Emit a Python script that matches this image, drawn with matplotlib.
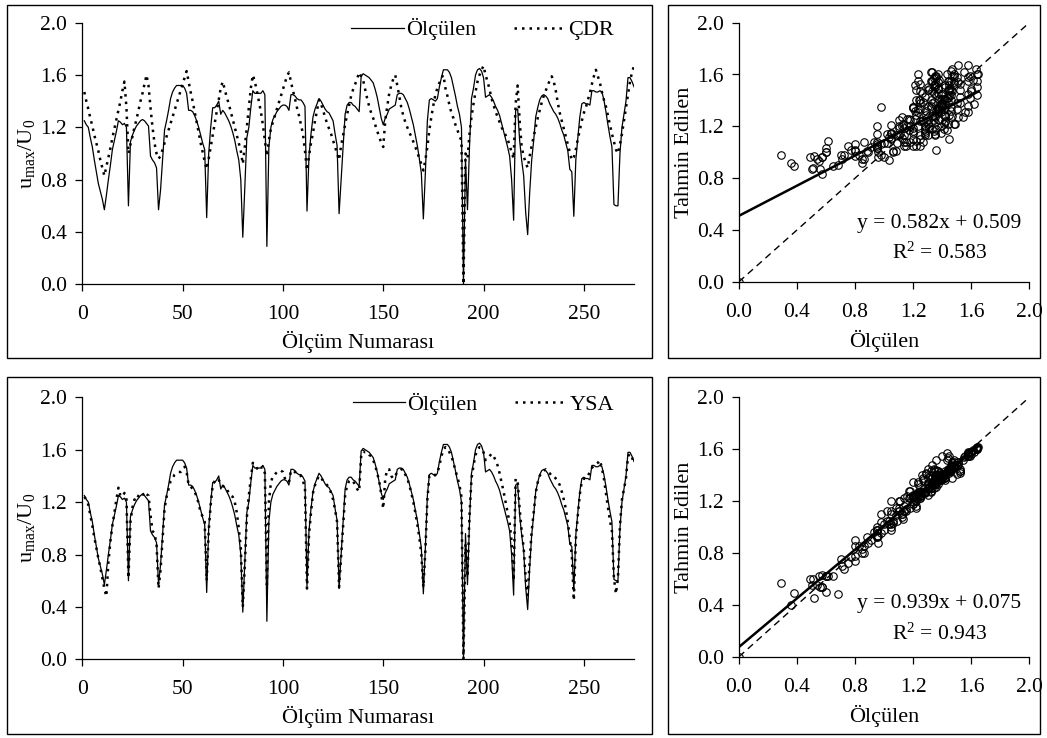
import numpy as np
import matplotlib
matplotlib.use("Agg")
import matplotlib.pyplot as plt
from matplotlib.patches import Rectangle

plt.rcParams['font.family'] = ['Liberation Serif', 'DejaVu Serif']
plt.rcParams['mathtext.fontset'] = 'custom'
plt.rcParams['mathtext.rm'] = 'Liberation Serif'
plt.rcParams['mathtext.it'] = 'Liberation Serif:italic'

# ---------------- data ----------------
olculen = [
    1.25, 1.22, 1.20, 1.12, 1.05, 0.95, 0.86, 0.77, 0.71, 0.65,
    0.57, 0.68, 0.80, 0.91, 1.03, 1.10, 1.17, 1.25, 1.24, 1.22,
    1.23, 1.20, 0.60, 1.09, 1.14, 1.18, 1.21, 1.23, 1.25, 1.26,
    1.25, 1.23, 1.21, 0.98, 0.95, 0.93, 0.89, 0.57, 0.72, 0.95,
    1.18, 1.25, 1.33, 1.42, 1.47, 1.50, 1.52, 1.52, 1.52, 1.52,
    1.50, 1.46, 1.33, 1.33, 1.32, 1.29, 1.25, 1.20, 1.14, 1.08,
    1.03, 0.51, 1.00, 1.20, 1.35, 1.35, 1.37, 1.40, 1.30, 1.33,
    1.31, 1.28, 1.25, 1.21, 1.16, 1.10, 1.02, 0.95, 0.80, 0.36,
    0.75, 1.12, 1.20, 1.35, 1.48, 1.46, 1.46, 1.46, 1.46, 1.48,
    1.45, 0.29, 1.05, 1.20, 1.26, 1.29, 1.32, 1.34, 1.36, 1.37,
    1.37, 1.36, 1.33, 1.45, 1.45, 1.44, 1.42, 1.41, 1.41, 1.39,
    1.36, 0.56, 0.98, 1.15, 1.28, 1.34, 1.38, 1.42, 1.40, 1.37,
    1.34, 1.32, 1.31, 1.28, 1.25, 1.15, 1.06, 0.54, 0.80, 1.05,
    1.30, 1.37, 1.39, 1.39, 1.37, 1.36, 1.34, 1.32, 1.59, 1.61,
    1.60, 1.59, 1.58, 1.56, 1.54, 1.49, 1.43, 1.35, 1.27, 1.22,
    1.27, 1.30, 1.34, 1.35, 1.36, 1.37, 1.45, 1.46, 1.46, 1.45,
    1.42, 1.39, 1.34, 1.28, 1.22, 1.14, 1.06, 0.96, 0.85, 0.50,
    0.85, 1.25, 1.41, 1.42, 1.41, 1.40, 1.42, 1.51, 1.58, 1.64,
    1.64, 1.64, 1.62, 1.58, 1.51, 1.44, 1.36, 1.30, 1.20, 0.00,
    0.96, 0.57, 1.05, 1.42, 1.50, 1.60, 1.64, 1.65, 1.63, 1.58,
    1.43, 1.44, 1.45, 1.43, 1.40, 1.36, 1.33, 1.29, 1.23, 1.17,
    1.11, 1.05, 0.98, 0.80, 0.49, 1.33, 1.34, 1.10, 0.95, 0.83,
    0.55, 0.38, 0.70, 0.95, 1.10, 1.28, 1.35, 1.41, 1.44, 1.45,
    1.44, 1.42, 1.38, 1.35, 1.32, 1.30, 1.27, 1.23, 1.18, 1.14,
    1.08, 1.02, 0.88, 0.86, 0.52, 0.95, 1.12, 1.28, 1.38, 1.39,
    1.38, 1.38, 1.37, 1.48, 1.48, 1.47, 1.47, 1.48, 1.47, 1.41,
    1.32, 1.22, 1.13, 1.05, 0.61, 0.60, 0.60, 1.00, 1.20, 1.30,
    1.40, 1.58, 1.58, 1.55, 1.51,
]

cdr = [
    1.47, 1.40, 1.34, 1.27, 1.21, 1.14, 1.08, 1.02, 0.95, 0.89,
    0.83, 0.90, 0.97, 1.04, 1.12, 1.19, 1.26, 1.33, 1.40, 1.48,
    1.55, 1.35, 1.00, 1.07, 1.13, 1.20, 1.26, 1.33, 1.40, 1.46,
    1.53, 1.60, 1.52, 1.35, 1.20, 1.08, 1.00, 0.96, 0.98, 1.03,
    1.08, 1.13, 1.18, 1.23, 1.28, 1.33, 1.38, 1.43, 1.48, 1.53,
    1.58, 1.63, 1.55, 1.47, 1.40, 1.32, 1.24, 1.16, 1.08, 1.01,
    0.94, 0.88, 0.96, 1.05, 1.14, 1.23, 1.32, 1.41, 1.50, 1.55,
    1.49, 1.43, 1.38, 1.32, 1.26, 1.20, 1.14, 1.08, 1.02, 0.92,
    1.05, 1.20, 1.35, 1.50, 1.60, 1.55, 1.48, 1.40, 1.32, 1.22,
    1.10, 0.98, 1.10, 1.19, 1.24, 1.29, 1.34, 1.39, 1.44, 1.49,
    1.54, 1.59, 1.62, 1.55, 1.48, 1.42, 1.35, 1.29, 1.22, 1.15,
    1.02, 0.87, 0.98, 1.08, 1.16, 1.25, 1.33, 1.41, 1.38, 1.33,
    1.28, 1.23, 1.19, 1.15, 1.10, 1.05, 1.00, 0.95, 1.06, 1.14,
    1.22, 1.30, 1.37, 1.44, 1.49, 1.53, 1.57, 1.62, 1.59, 1.56,
    1.49, 1.42, 1.36, 1.31, 1.27, 1.22, 1.17, 1.13, 1.08, 1.05,
    1.25, 1.36, 1.46, 1.52, 1.57, 1.60, 1.52, 1.44, 1.35, 1.29,
    1.24, 1.20, 1.16, 1.13, 1.09, 1.05, 1.01, 0.96, 0.92, 0.87,
    0.95, 1.05, 1.18, 1.28, 1.37, 1.45, 1.50, 1.54, 1.58, 1.60,
    1.50, 1.44, 1.37, 1.31, 1.27, 1.22, 1.18, 1.13, 1.10, 0.00,
    1.00, 0.96, 1.15, 1.28, 1.38, 1.47, 1.55, 1.60, 1.64, 1.67,
    1.60, 1.55, 1.49, 1.42, 1.37, 1.32, 1.28, 1.24, 1.20, 1.17,
    1.14, 1.11, 1.06, 1.01, 0.96, 1.38, 1.52, 1.25, 1.05, 0.98,
    0.93, 0.89, 0.98, 1.06, 1.13, 1.20, 1.27, 1.33, 1.39, 1.44,
    1.48, 1.52, 1.56, 1.59, 1.55, 1.48, 1.39, 1.31, 1.25, 1.19,
    1.13, 1.07, 1.01, 0.95, 0.97, 1.03, 1.11, 1.18, 1.25, 1.31,
    1.35, 1.41, 1.46, 1.53, 1.59, 1.64, 1.59, 1.54, 1.47, 1.41,
    1.36, 1.29, 1.22, 1.15, 1.09, 1.03, 1.00, 1.07, 1.15, 1.25,
    1.35, 1.45, 1.55, 1.62, 1.67,
]

ysa = [
    1.24, 1.22, 1.18, 1.10, 1.02, 0.93, 0.85, 0.77, 0.70, 0.62,
    0.54, 0.48, 0.74, 0.90, 1.02, 1.12, 1.22, 1.31, 1.25, 1.24,
    1.27, 1.23, 0.62, 1.05, 1.16, 1.22, 1.21, 1.25, 1.27, 1.27,
    1.24, 1.26, 1.25, 1.10, 0.98, 0.96, 0.88, 0.54, 0.68, 0.92,
    1.15, 1.24, 1.30, 1.36, 1.38, 1.41, 1.42, 1.43, 1.43, 1.45,
    1.47, 1.43, 1.33, 1.32, 1.30, 1.28, 1.24, 1.19, 1.12, 1.09,
    1.05, 0.60, 0.98, 1.18, 1.33, 1.36, 1.38, 1.37, 1.34, 1.33,
    1.30, 1.30, 1.27, 1.25, 1.24, 1.20, 1.12, 1.00, 0.85, 0.40,
    0.72, 1.08, 1.25, 1.38, 1.50, 1.48, 1.46, 1.44, 1.46, 1.47,
    1.42, 0.57, 1.20, 1.35, 1.40, 1.41, 1.43, 1.44, 1.44, 1.43,
    1.38, 1.36, 1.35, 1.44, 1.44, 1.43, 1.41, 1.40, 1.40, 1.36,
    1.31, 0.54, 0.95, 1.12, 1.27, 1.33, 1.37, 1.40, 1.39, 1.36,
    1.35, 1.33, 1.31, 1.27, 1.22, 1.14, 1.05, 0.55, 0.78, 1.00,
    1.25, 1.33, 1.36, 1.37, 1.36, 1.33, 1.30, 1.28, 1.55, 1.59,
    1.58, 1.58, 1.56, 1.55, 1.52, 1.48, 1.42, 1.36, 1.26, 1.15,
    1.38, 1.45, 1.45, 1.40, 1.38, 1.40, 1.43, 1.44, 1.45, 1.45,
    1.41, 1.38, 1.33, 1.27, 1.20, 1.12, 1.03, 0.93, 0.80, 0.55,
    0.83, 1.22, 1.40, 1.41, 1.40, 1.41, 1.42, 1.48, 1.55, 1.60,
    1.62, 1.61, 1.58, 1.55, 1.50, 1.44, 1.39, 1.33, 1.24, 0.00,
    0.88, 0.63, 1.10, 1.38, 1.48, 1.56, 1.60, 1.62, 1.61, 1.58,
    1.52, 1.53, 1.55, 1.57, 1.55, 1.52, 1.48, 1.42, 1.35, 1.28,
    1.20, 1.12, 1.04, 0.90, 0.60, 1.38, 1.36, 1.15, 0.98, 0.85,
    0.62, 0.49, 0.75, 0.98, 1.12, 1.27, 1.35, 1.40, 1.43, 1.44,
    1.45, 1.43, 1.42, 1.40, 1.40, 1.38, 1.36, 1.33, 1.28, 1.22,
    1.15, 1.05, 0.92, 0.80, 0.45, 0.92, 1.10, 1.26, 1.36, 1.38,
    1.38, 1.40, 1.43, 1.46, 1.48, 1.49, 1.50, 1.52, 1.46, 1.38,
    1.27, 1.16, 1.06, 0.98, 0.62, 0.50, 0.62, 1.02, 1.22, 1.30,
    1.38, 1.55, 1.57, 1.54, 1.50,
]

olcum_no = np.arange(1, len(olculen) + 1)

cdr_fit = (0.582, 0.509, 0.583)
ysa_fit = (0.939, 0.075, 0.943)

series_ticks_x = [0, 50, 100, 150, 200, 250]
value_ticks = [0.0, 0.4, 0.8, 1.2, 1.6, 2.0]

# ---------------- layout ----------------
W, H = 1047, 738
fig = plt.figure(figsize=(W / 100, H / 100), dpi=100)


def rect(x0, x1, y0, y1):
    return [x0 / W, 1 - y1 / H, (x1 - x0) / W, (y1 - y0) / H]


for (bx0, bx1, by0, by1) in [(7, 652, 5, 358), (668, 1040, 5, 358),
                             (7, 652, 377, 734), (668, 1040, 377, 734)]:
    fig.patches.append(Rectangle((bx0 / W, 1 - by1 / H), (bx1 - bx0) / W,
                                 (by1 - by0) / H, transform=fig.transFigure,
                                 fill=False, edgecolor='black', lw=1.0))

FS_T = 15.5
FS_L = 16


def style_axes(ax):
    for s in ['top', 'right']:
        ax.spines[s].set_visible(False)
    for s in ['left', 'bottom']:
        ax.spines[s].set_linewidth(0.9)
    ax.tick_params(direction='out', length=5, width=0.9, labelsize=FS_T)
    ax.tick_params(axis='y', pad=6)
    ax.tick_params(axis='x', pad=10)


def line_panel(ax, model, model_name):
    ax.plot(olcum_no, olculen, color='black', lw=0.9, label='Ölçülen')
    ax.plot(olcum_no, model, color='black', lw=1.8, linestyle=(0, (1, 2.0)),
            dash_capstyle='butt', label=model_name)
    ax.set_xlim(0, 275)
    ax.set_ylim(0, 2.0)
    ax.set_xticks(series_ticks_x)
    ax.set_yticks(value_ticks)
    ax.set_yticklabels([f'{v:.1f}' for v in value_ticks])
    ax.set_xlabel('Ölçüm Numarası', fontsize=FS_L, labelpad=5)
    ax.set_ylabel(r'u$_{\mathregular{max}}$/U$_{\mathregular{0}}$', fontsize=FS_L)
    ax.yaxis.set_label_coords(-0.082, 0.5)
    style_axes(ax)
    ax.legend(loc='center right', bbox_to_anchor=(0.98, 0.975), ncol=2, frameon=False,
              fontsize=FS_L, handlelength=2.35, columnspacing=1.7, handletextpad=0.1,
              borderaxespad=0.0)


def scatter_panel(ax, model, fit):
    a, b, r2 = fit
    ax.plot([0, 2], [0, 2], color='black', lw=1.0, linestyle=(0, (5, 3.5)))
    ax.plot(olculen, model, linestyle='none', marker='o', ms=5.4, mfc='none',
            mec='black', mew=0.8)
    xs = np.array([0.0, max(olculen)])
    ax.plot(xs, a * xs + b, color='black', lw=1.8)
    ax.set_xlim(0, 2.0)
    ax.set_ylim(0, 2.0)
    ax.set_xticks(value_ticks)
    ax.set_yticks(value_ticks)
    ax.set_xticklabels([f'{v:.1f}' for v in value_ticks])
    ax.set_yticklabels([f'{v:.1f}' for v in value_ticks])
    ax.set_xlabel('Ölçülen', fontsize=FS_L, labelpad=6)
    ax.set_ylabel('Tahmin Edilen', fontsize=FS_L)
    ax.yaxis.set_label_coords(-0.155, 0.5)
    style_axes(ax)
    ax.text(1.38, 0.45 if a < 0.9 else 0.41, f'y = {a:.3f}x + {b:.3f}',
            ha='center', va='center', fontsize=15.5)
    ax.text(1.38, 0.22 if a < 0.9 else 0.175, f'R$^{{2}}$ = {r2:.3f}',
            ha='center', va='center', fontsize=15.5)


ax1 = fig.add_axes(rect(82.3, 634, 22.7, 284.3))
line_panel(ax1, cdr, 'ÇDR')
ax2 = fig.add_axes(rect(739, 1029.3, 22.7, 281.7))
scatter_panel(ax2, cdr, cdr_fit)
ax3 = fig.add_axes(rect(82.3, 634, 397.3, 659.3))
line_panel(ax3, ysa, 'YSA')
ax4 = fig.add_axes(rect(739, 1029.3, 397.3, 656.7))
scatter_panel(ax4, ysa, ysa_fit)

fig.savefig('out.png', dpi=100)
